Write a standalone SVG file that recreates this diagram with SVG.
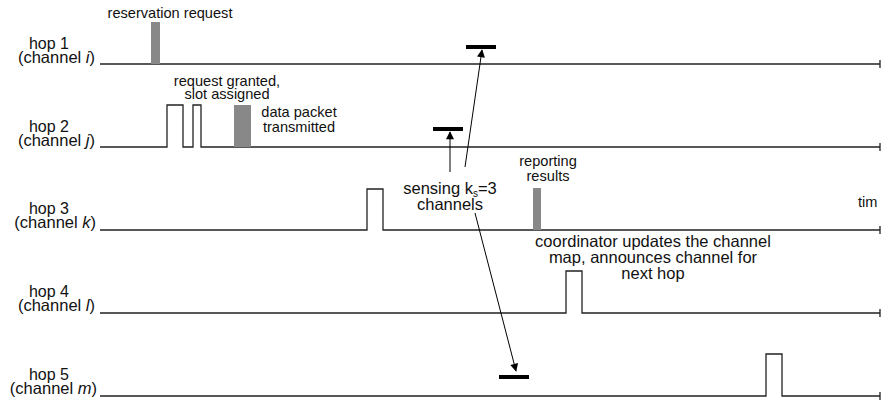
<svg xmlns="http://www.w3.org/2000/svg" width="881" height="402" viewBox="0 0 881 402">
<defs>
<style>
text{font-family:"Liberation Sans",Arial,sans-serif;font-size:14.6px;fill:#111}
.m{text-anchor:middle}
.L{font-size:16.5px}
.hop{font-size:16px;text-anchor:middle}
.ch{font-size:16.5px;text-anchor:end}
.sig{fill:none;stroke:#222;stroke-width:1.3}
.gray{fill:#888}
.bar{fill:#000}
.arr{stroke:#000;stroke-width:1;fill:none;marker-end:url(#ah)}
</style>
<marker id="ah" viewBox="0 0 10 10" refX="9" refY="5" markerWidth="9" markerHeight="8" markerUnits="userSpaceOnUse" orient="auto">
<path d="M0,0 L10,5 L0,10 z" fill="#000"/>
</marker>
</defs>
<rect width="881" height="402" fill="#fff"/>

<g id="hop1">
<text class="hop" x="49" y="49">hop 1</text>
<text class="ch" x="95" y="63">(channel <tspan font-style="italic">i</tspan>)</text>
<path class="sig" d="M100,64 H880 M880,60 V68"/>
<rect class="gray" x="151" y="22" width="9" height="42"/>
<text class="m" x="170" y="18">reservation request</text>
<rect class="bar" x="466" y="45" width="30" height="4"/>
</g>

<g id="hop2">
<text class="hop" x="49" y="132">hop 2</text>
<text class="ch" x="95" y="146">(channel <tspan font-style="italic">j</tspan>)</text>
<path class="sig" d="M100,147 H167 V105 H183 V147 H193 V105 H201 V147 H880 M880,143 V151"/>
<rect class="gray" x="234" y="105" width="17" height="42"/>
<text class="m" x="227" y="86">request granted,</text>
<text class="m" x="227" y="99">slot assigned</text>
<text class="m" x="299" y="117">data packet</text>
<text class="m" x="299" y="132">transmitted</text>
<rect class="bar" x="433" y="127" width="30" height="4"/>
</g>

<g id="hop3">
<text class="hop" x="49" y="214">hop 3</text>
<text class="ch" x="96" y="228">(channel <tspan font-style="italic">k</tspan>)</text>
<path class="sig" d="M100,230 H367 V189 H383 V230 H880 M880,226 V234"/>
<rect class="gray" x="533" y="188" width="8" height="42"/>
<text class="m" x="548" y="166">reporting</text>
<text class="m" x="548" y="181">results</text>
<text x="858" y="207">tim</text>
<text class="m L" x="450" y="194">sensing k<tspan font-size="10" dy="3">s</tspan><tspan dy="-3">=3</tspan></text>
<text class="m L" x="450" y="210">channels</text>
</g>

<g id="hop4">
<text class="hop" x="49" y="297">hop 4</text>
<text class="ch" x="95" y="311">(channel <tspan font-style="italic">l</tspan>)</text>
<path class="sig" d="M100,313 H566 V271 H582 V313 H880 M880,309 V317"/>
<text class="m L" x="653" y="247">coordinator updates the channel</text>
<text class="m L" x="653" y="263">map, announces channel for</text>
<text class="m L" x="653" y="279">next hop</text>
</g>

<g id="hop5">
<text class="hop" x="49" y="380">hop 5</text>
<text class="ch" x="97" y="394">(channel <tspan font-style="italic">m</tspan>)</text>
<path class="sig" d="M100,396 H766 V354 H782 V396 H880 M880,392 V400"/>
<rect class="bar" x="499" y="375" width="30" height="4"/>
</g>

<g id="connectors">
<line class="arr" x1="450" y1="172" x2="450" y2="132"/>
<line class="arr" x1="465" y1="167" x2="482" y2="50"/>
<line class="arr" x1="475" y1="213" x2="516" y2="371"/>
</g>
</svg>
